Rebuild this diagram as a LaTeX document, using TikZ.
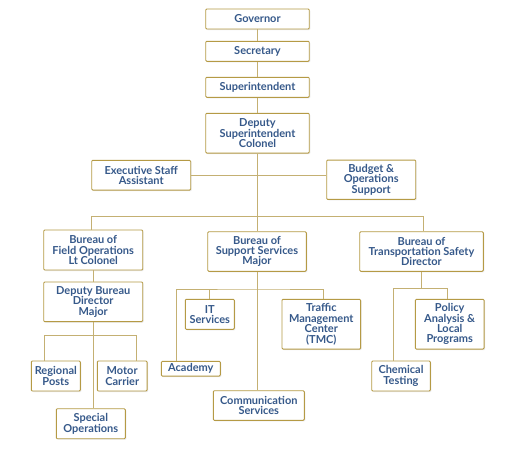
\documentclass[tikz,border=0pt]{standalone}
\usepackage{fontspec}
\setmainfont{Lato}
\usepackage{tikz}
\usetikzlibrary{shadows}
\usetikzlibrary{calc}
\definecolor{gold}{HTML}{B59A45}
\definecolor{lightgold}{HTML}{C4B073}
\definecolor{navy}{HTML}{36598A}
\tikzstyle{orgbox}=[rectangle,draw=gold,line width=0.9pt,rounded corners=1pt,fill=white,inner sep=0pt,align=center,text=navy,font=\fontsize{11}{10.4}\selectfont\bfseries,drop shadow={opacity=0.18,shadow xshift=1pt,shadow yshift=-1pt}]
\tikzstyle{link}=[draw=lightgold,line width=0.9pt]

\begin{document}
\begin{tikzpicture}[x=1pt,y=-1pt]

   \useasboundingbox[fill=white] (0,0) rectangle (517,466);

    \foreach \name/\pos/\w/\h/\txt in {gov/{(257.5,19)}/103.5/20/{Governor}, sec/{(257.5,51.3)}/103.5/20/{Secretary}, sup/{(257.5,87.3)}/103.5/20/{Superintendent}, dep/{(257.5,133.2)}/103.5/39.7/{Deputy\\Superintendent\\Colonel}, exec/{(141.2,175.2)}/99/29.7/{Executive Staff\\Assistant}, budget/{(371.2,179.7)}/89/39.3/{Budget \&\\Operations\\Support}, field/{(93.2,250)}/99/40/{Bureau of\\Field Operations\\Lt Colonel}, support/{(257,251.5)}/98.6/39.6/{Bureau of\\Support Services\\Major}, transport/{(421.5,251.5)}/123.6/39.6/{Bureau of\\Transportation Safety\\Director}, deputyb/{(93.2,301.8)}/99/39.7/{Deputy Bureau\\Director\\Major}, regional/{(55.8,376)}/49/30/{Regional\\Posts}, motor/{(122.2,376)}/49.7/30/{Motor\\Carrier}, special/{(90.8,423.7)}/69/30/{Special\\Operations}, it/{(209.8,314.3)}/49/30/{IT\\Services}, traffic/{(321.3,324.2)}/78.7/49.7/{Traffic\\Management\\Center\\(TMC)}, academy/{(190.8,368.7)}/59/14.7/{Academy}, comm/{(258.8,405.5)}/91/29.6/{Communication\\Services}, policy/{(449.7,324.2)}/68.7/49.7/{Policy\\Analysis \&\\Local\\Programs}, chem/{(401,376)}/58.6/30/{Chemical\\Testing}}
        \node[orgbox,minimum width=\w pt,minimum height=\h pt] (\name) at \pos {\txt};

    % bus points
    \coordinate (mainbus) at (257.5,216.7);
    \coordinate (fbus) at (91,335.7);
    \coordinate (sbus) at (257.3,289);
    \coordinate (tbus) at (421.5,288.7);

    \foreach \source/\dest in {gov/sec, sec/sup, sup/dep, dep/support, field/deputyb, deputyb/special, support/comm}
        \draw[link] (\source.south) -- (\source.south |- \dest.north);

   \draw[link] (exec.east) -- (exec.east -| budget.west);
   \draw[link] ([xshift=-1.9pt]field.north) |- (mainbus) -| ([xshift=1.8pt]transport.north);
   \draw[link] ([xshift=-11.5pt]regional.north) |- (fbus) -| ([xshift=13.8pt]motor.north);
   \draw[link] ([xshift=-14.1pt]academy.north) |- (sbus) -| ([xshift=2pt]traffic.north);
   \draw[link] (it.north) -- (it.north |- sbus);
   \draw[link] (transport.south) -- (tbus);
   \draw[link] ([xshift=-7.3pt]chem.north) |- (tbus) -| ([xshift=-2.7pt]policy.north);

\end{tikzpicture}
\end{document}
